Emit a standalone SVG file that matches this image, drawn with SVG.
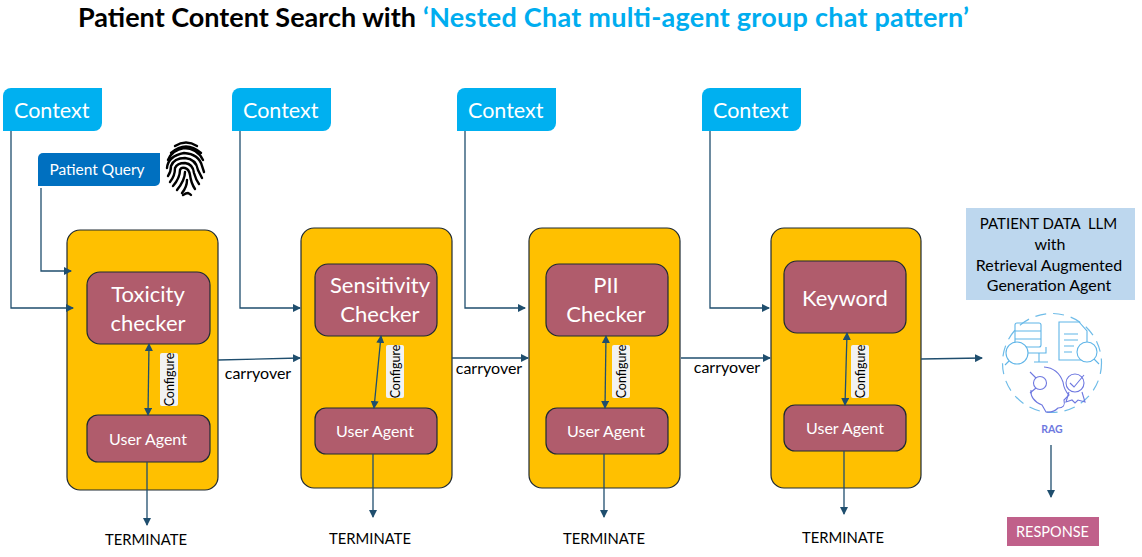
<svg xmlns="http://www.w3.org/2000/svg" width="1142" height="557" viewBox="0 0 1142 557">
<style>
text{font-family:Lato,"Liberation Sans",sans-serif}
.yb{fill:#FFC000;stroke:#1f2a33;stroke-width:1.2}
.mb{fill:#B05C6C;stroke:#1f2a33;stroke-width:1.2}
.ctx{fill:#00B0F0}
.ct{fill:#fff;font-size:21.5px}
.mt{fill:#fff;font-size:22px;text-anchor:middle}
.ut{fill:#fff;font-size:16px;text-anchor:middle}
.k{fill:#000;font-size:16px;text-anchor:middle}
.tm{fill:#000;font-size:14.8px;text-anchor:middle}
.cfgb{fill:#F2F2F2}
.cfg{fill:#000;font-size:12.5px;text-anchor:middle}
.ln{fill:none;stroke:#1F4E6E;stroke-width:1.3}
.fp path{fill:none;stroke:#000;stroke-width:2.4;stroke-linecap:round}
.ic{fill:none;stroke:#5FB5E8;stroke-width:1.1}
.ip{fill:none;stroke:#6E78E0;stroke-width:1.1}
.w{fill:#fff}
</style>
<defs>
<marker id="a" markerWidth="9" markerHeight="8" refX="7" refY="4" orient="auto-start-reverse" markerUnits="userSpaceOnUse"><path d="M0 0L8 4L0 8Z" fill="#1F4E6E"/></marker>
</defs>
<text x="78" y="27" font-size="27" font-weight="700" fill="#000" textLength="338">Patient Content Search with</text>
<text x="423" y="27" font-size="27" font-weight="700" fill="#00ADEF" textLength="546">‘Nested Chat multi-agent group chat pattern’</text>

<g id="context-1"><path class="ctx" d="M11 88H102V123a8 8 0 0 1-8 8H3V96a8 8 0 0 1 8-8Z"/><text class="ct" x="14" y="118">Context</text></g>
<g id="context-2"><path class="ctx" d="M240 88H331V123a8 8 0 0 1-8 8H232V96a8 8 0 0 1 8-8Z"/><text class="ct" x="243" y="118">Context</text></g>
<g id="context-3"><path class="ctx" d="M465 88H556V123a8 8 0 0 1-8 8H457V96a8 8 0 0 1 8-8Z"/><text class="ct" x="468" y="118">Context</text></g>
<g id="context-4"><path class="ctx" d="M710 88H801V123a8 8 0 0 1-8 8H702V96a8 8 0 0 1 8-8Z"/><text class="ct" x="713" y="118">Context</text></g>

<g id="patient-query"><path fill="#0070C0" d="M43 153H160V181a5 5 0 0 1-5 5H38V158a5 5 0 0 1 5-5Z"/><text x="97" y="175" fill="#fff" font-size="15.500" text-anchor="middle">Patient Query</text></g>

<g id="fingerprint" class="fp">
<path d="M175 146Q186 139 197 146"/>
<path d="M171 153Q186 140 201 153"/>
<path d="M168 160Q172 150 184 148Q197 148 203 160"/>
<path d="M167 168Q168 156 184 153Q199 154 202 166L204 172"/>
<path d="M168 176Q171 172 171 166Q174 158 185 158Q196 159 198 170L202 178"/>
<path d="M170 182Q175 176 175 168Q177 163 185 163Q193 164 194 173Q196 180 199 184"/>
<path d="M173 186Q180 178 180 170Q181 167 185 168Q189 169 190 175Q191 183 195 189"/>
<path d="M177 190Q185 180 185 172"/>
<path d="M182 193Q187 187 187 180"/>
<path d="M183 195Q186 193 188 193Q190 194 191 195"/>
</g>

<g id="toxicity-checker"><rect class="yb" x="67" y="230" width="151" height="260" rx="13"/><rect class="mb" x="87" y="272" width="123" height="72" rx="13"/><text class="mt" x="148" y="302">Toxicity</text><text class="mt" x="148" y="331">checker</text><rect class="mb" x="87" y="415" width="123" height="47" rx="11"/><text class="ut" x="148" y="444.500">User Agent</text><rect class="cfgb" x="160" y="353" width="18" height="53" rx="2"/><text class="cfg" transform="translate(174 379.500) rotate(-90)">Configure</text></g>
<g id="sensitivity-checker"><rect class="yb" x="301" y="228" width="151" height="260" rx="13"/><rect class="mb" x="315" y="264" width="122" height="72" rx="13"/><text class="mt" x="380" y="293">Sensitivity</text><text class="mt" x="380" y="322">Checker</text><rect class="mb" x="315" y="408" width="122" height="46" rx="11"/><text class="ut" x="375" y="436.500">User Agent</text><rect class="cfgb" x="386" y="345" width="18" height="53" rx="2"/><text class="cfg" transform="translate(400 371.500) rotate(-90)">Configure</text></g>
<g id="pii-checker"><rect class="yb" x="529" y="228" width="151" height="260" rx="13"/><rect class="mb" x="546" y="264" width="122" height="72" rx="13"/><text class="mt" x="606" y="293">PII</text><text class="mt" x="606" y="322">Checker</text><rect class="mb" x="546" y="408" width="122" height="46" rx="11"/><text class="ut" x="606" y="436.500">User Agent</text><rect class="cfgb" x="612" y="345" width="18" height="53" rx="2"/><text class="cfg" transform="translate(626 371.500) rotate(-90)">Configure</text></g>
<g id="keyword"><rect class="yb" x="771" y="228" width="150" height="260" rx="13"/><rect class="mb" x="784" y="261" width="122" height="72" rx="13"/><text class="mt" x="845" y="305.500">Keyword</text><rect class="mb" x="784" y="405" width="122" height="46" rx="11"/><text class="ut" x="845" y="433.500">User Agent</text><rect class="cfgb" x="851" y="345" width="18" height="53" rx="2"/><text class="cfg" transform="translate(865 371.500) rotate(-90)">Configure</text></g>

<g id="llm"><rect x="966" y="208" width="169" height="92" fill="#BDD7EE"/><g font-size="16" fill="#000" text-anchor="middle"><text x="1048.500" y="229" font-size="15" xml:space="preserve">PATIENT DATA  LLM</text><text x="1050" y="250">with</text><text x="1049" y="271">Retrieval Augmented</text><text x="1049" y="291">Generation Agent</text></g></g>

<g id="rag">
<circle cx="1052" cy="363" r="49.500" fill="none" stroke="#6FBCE8" stroke-width="1.200" stroke-dasharray="11 7"/>
<rect class="ic" x="1015" y="323" width="26" height="24" rx="2"/><path class="ic" d="M1015 331H1041M1015 339H1041M1023 353H1046V347M1039 353V362M1034 362H1048"/>
<circle class="ic w" cx="1017" cy="353" r="11" style="fill:#fff"/><path class="ic" d="M1009 361L1005 365"/>
<path class="ic" d="M1059 322H1079L1087 331V360H1059ZM1064 334H1078M1064 340H1078M1064 346H1074M1064 352H1072"/>
<circle class="ic" cx="1087" cy="352" r="10" style="fill:#fff"/><path class="ic" d="M1094 359L1099 364"/>
<path class="ip" d="M1044 367Q1058 368 1063 382Q1064 390 1069 395L1064 400Q1066 408 1058 408Q1053 413 1046 412L1042 405Q1030 400 1031 390"/>
<circle class="ip" cx="1040" cy="383" r="6.500"/><path class="ip" d="M1030 372L1036 378M1030 393L1036 388"/>
<circle class="ip" cx="1075" cy="383" r="9"/><path class="ip" d="M1070 383L1074 387L1084 375M1069 392L1066 402L1072 400L1075 403L1078 400L1085 402L1082 392"/>
<text x="1052" y="433" font-size="10.500" font-weight="700" fill="#6E78E0" text-anchor="middle">RAG</text>
</g>

<g id="response"><rect x="1007" y="517" width="92" height="29" fill="#C0608A"/><text x="1052.500" y="537" fill="#fff" font-size="14.500" text-anchor="middle">RESPONSE</text></g>

<g id="labels">
<text class="tm" x="146" y="545">TERMINATE</text><text class="tm" x="370" y="544">TERMINATE</text><text class="tm" x="604" y="544">TERMINATE</text><text class="tm" x="843" y="543">TERMINATE</text>
<text class="k" x="258" y="379">carryover</text><text class="k" x="489" y="374">carryover</text><text class="k" x="727" y="373">carryover</text>
</g>

<g id="connectors" class="ln" marker-end="url(#a)">
<path d="M11 131V308H73"/><path d="M41 188V271H71"/><path d="M240 131V308H300"/><path d="M465 131V308H525"/><path d="M710 131V308H769"/>
<path d="M218 360L300 358"/><path d="M452 358H528"/><path d="M681 358H770"/><path d="M921 359L982 358"/>
<path d="M149 344L148 415" marker-start="url(#a)"/><path d="M381 336L374 408" marker-start="url(#a)"/><path d="M606 336L605 408" marker-start="url(#a)"/><path d="M847 333L845 405" marker-start="url(#a)"/>
<path d="M147 462V525"/><path d="M373 454V517"/><path d="M604 454V517"/><path d="M844 451V514"/><path d="M1051 445V497"/>
</g>
</svg>
